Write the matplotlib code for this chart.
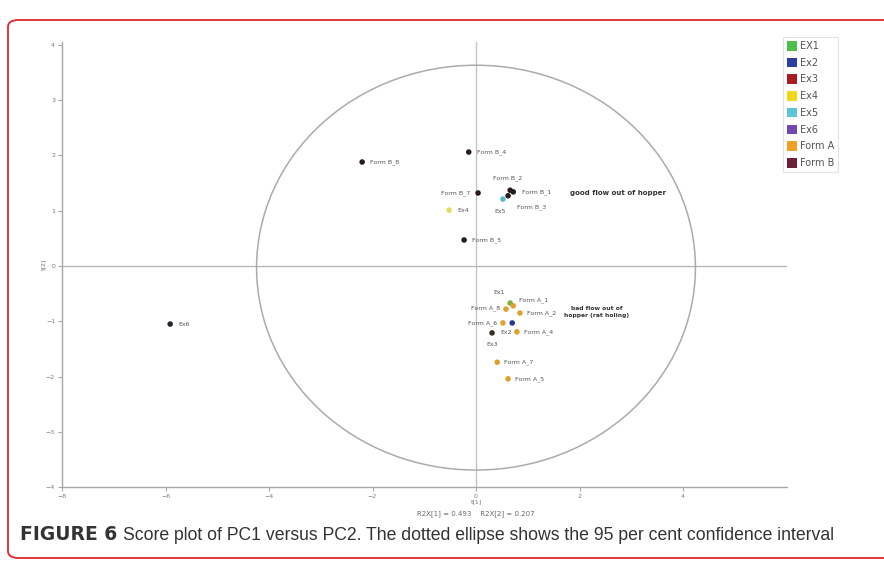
import matplotlib.pyplot as plt
from matplotlib.patches import Ellipse, Patch, FancyBboxPatch

# ── SCORES (t[1], t[2]) ───────────────────────────────────────
labels = ['Form B_4', 'Form B_8', 'Form B_7', 'Form B_2', 'Form B_1', 'Form B_3',
          'Ex5', 'Ex4', 'Form B_5', 'Ex6',
          'Ex1', 'Form A_1', 'Form A_2', 'Form A_8', 'Form A_6', 'Ex2',
          'Form A_4', 'Ex3', 'Form A_7', 'Form A_5']
t1 = [-0.14, -2.20, 0.04, 0.66, 0.72, 0.62,
      0.52, -0.52, -0.23, -5.91,
      0.66, 0.72, 0.85, 0.58, 0.52, 0.70,
      0.79, 0.31, 0.41, 0.62]
t2 = [2.06, 1.88, 1.32, 1.37, 1.34, 1.27,
      1.21, 1.01, 0.47, -1.05,
      -0.67, -0.72, -0.85, -0.78, -1.03, -1.03,
      -1.19, -1.21, -1.74, -2.04]
groups = ['Form B', 'Form B', 'Form B', 'Form B', 'Form B', 'Form B',
          'Ex5', 'Ex4', 'Form B', 'Ex6',
          'EX1', 'Form A', 'Form A', 'Form A', 'Form A', 'Ex2',
          'Form A', 'Ex3', 'Form A', 'Form A']

legend_names = ['EX1', 'Ex2', 'Ex3', 'Ex4', 'Ex5', 'Ex6', 'Form A', 'Form B']
legend_colors = ['#4cbf4a', '#2b3f9e', '#a81c22', '#ecd81c', '#5cc6d6',
                 '#7048b0', '#f0a024', '#6e1f3c']
# marker colours look darker than the legend swatches on the plot
point_colors = {'EX1': '#7fae3a', 'Ex2': '#24389a', 'Ex3': '#3a2a22',
                'Ex4': '#e4dc60', 'Ex5': '#5cb8c8', 'Ex6': '#2a2430',
                'Form A': '#e0a030', 'Form B': '#2a1a20'}

# label offsets in pixels and alignment
offsets = {
    'Form B_4': (8, 0, 'left'), 'Form B_8': (8, 0, 'left'),
    'Form B_7': (-8, 0, 'right'), 'Form B_2': (-3, 12, 'center'),
    'Form B_1': (9, 0, 'left'), 'Form B_3': (9, -11, 'left'),
    'Ex5': (-3, -12, 'center'), 'Ex4': (8, 0, 'left'),
    'Form B_5': (8, 0, 'left'), 'Ex6': (8, 0, 'left'),
    'Ex1': (-11, 11, 'center'), 'Form A_1': (6, 6, 'left'),
    'Form A_2': (7, 0, 'left'), 'Form A_8': (-6, 1, 'right'),
    'Form A_6': (-6, 0, 'right'), 'Ex2': (-6, -10, 'center'),
    'Form A_4': (7, 0, 'left'), 'Ex3': (0, -12, 'center'),
    'Form A_7': (7, 0, 'left'), 'Form A_5': (7, 0, 'left'),
}

fig = plt.figure(figsize=(8.84, 5.71), dpi=100)

# red rounded frame round the figure
frame = FancyBboxPatch((8 / 884, 1 - 558 / 571), 900 / 884, 538 / 571,
                       boxstyle='round,pad=0,rounding_size=0.012',
                       transform=fig.transFigure, fill=False,
                       edgecolor='#e2262c', linewidth=1.3)
fig.patches.append(frame)

ax = fig.add_axes([62 / 884, 83.8 / 571, 724.5 / 884, 445.2 / 571])
ax.set_xlim(-8, 6.0)
ax.set_ylim(-4, 4.05)

for s in ['top', 'right']:
    ax.spines[s].set_visible(False)
for s in ['left', 'bottom']:
    ax.spines[s].set_color('#a8a8a8')
    ax.spines[s].set_linewidth(1.0)

ax.set_xticks([-8, -6, -4, -2, 0, 2, 4])
ax.set_yticks([-4, -3, -2, -1, 0, 1, 2, 3, 4])
ax.tick_params(length=3, width=0.8, color='#a8a8a8', labelsize=4.5,
               labelcolor='#7a7a7a', pad=2)

ax.axhline(0, color='#b8b8b8', lw=1.0, zorder=1)
ax.axvline(0, color='#c4c4c4', lw=1.0, zorder=1)
ax.add_patch(Ellipse((0, -0.03), 8.48, 7.32, fill=False,
                     edgecolor='#ababab', lw=1.1, zorder=1))

for name, x, y, g in zip(labels, t1, t2, groups):
    ax.scatter(x, y, s=16, color=point_colors[g], edgecolor='none', zorder=3)
    dx, dy, ha = offsets[name]
    ax.annotate(name, (x, y), xytext=(dx, dy), textcoords='offset pixels',
                ha=ha, va='center', fontsize=4.5, color='#555555')

ax.text(1.82, 1.32, 'good flow out of hopper', fontsize=5, color='#333333',
        fontweight='bold', va='center')
ax.text(2.33, -0.83, 'bad flow out of\nhopper (rat holing)', fontsize=4.3,
        color='#333333', fontweight='bold', ha='center', va='center',
        linespacing=1.4)

ax.set_ylabel('t[2]', fontsize=4.5, color='#777777', labelpad=0)
fig.text(476 / 884, 1 - 502 / 571, 't[1]', fontsize=4.5, color='#777777',
         ha='center', va='center')
fig.text(476 / 884, 1 - 514 / 571, 'R2X[1] = 0.493    R2X[2] = 0.207',
         fontsize=5, color='#666666', ha='center', va='center')

handles = [Patch(facecolor=c, edgecolor='none') for c in legend_colors]
leg = fig.legend(handles, legend_names, loc='upper left',
                 bbox_to_anchor=(783 / 884, 1 - 37 / 571), fontsize=7,
                 frameon=True, fancybox=False, handlelength=1.0,
                 handleheight=1.15, handletextpad=0.3, labelspacing=0.68,
                 borderpad=0.4, borderaxespad=0)
leg.get_frame().set_edgecolor('#dddddd')
leg.get_frame().set_linewidth(0.8)
for t in leg.get_texts():
    t.set_color('#555555')

fig.text(20 / 884, 1 - 535 / 571, 'FIGURE 6', fontsize=13.5,
         fontweight='bold', color='#333333', va='center', family='DejaVu Sans')
fig.text(123 / 884, 1 - 535 / 571,
         'Score plot of PC1 versus PC2. The dotted ellipse shows the 95 per cent confidence interval',
         fontsize=12.7, color='#333333', va='center', family='Liberation Sans')

plt.savefig('out.png', dpi=100)
